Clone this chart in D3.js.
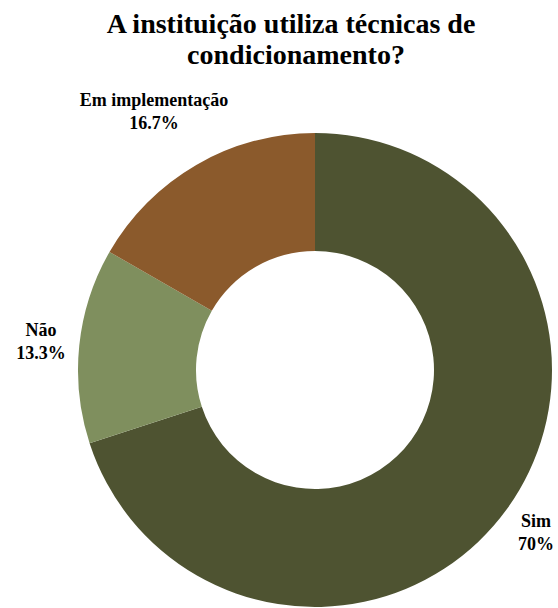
<!DOCTYPE html>
<html><head><meta charset="utf-8">
<script src="https://cdn.jsdelivr.net/npm/d3@7"></script>
</head><body>
<script>
const categories = ["Sim", "Não", "Em implementação"];
const values = [70, 13.3, 16.7];
const labels = ["70%", "13.3%", "16.7%"];
const colors = ["#4e5331", "#7f8f5e", "#8b5a2c"];
const titleLines = ["A instituição utiliza técnicas de", "condicionamento?"];

const W = 558, H = 608;
const FONT = '"Liberation Serif", "Times New Roman", serif';
d3.select("body").style("margin", "0px");
const svg = d3.select("body").append("svg").attr("width", W).attr("height", H)
  .style("display", "block");

svg.selectAll("text.title").data(titleLines).join("text")
  .attr("class", "title")
  .attr("x", (d, i) => i === 0 ? 291 : 296).attr("y", (d, i) => 33 + i * 31)
  .attr("text-anchor", "middle")
  .style("font-family", FONT).style("font-weight", "bold")
  .style("font-size", "28px").attr("fill", "#000")
  .text(d => d);

const cx = 315, cy = 370, R = 237, r = 119;
const pie = d3.pie().sort(null).value(d => d);
const arc = d3.arc().innerRadius(r).outerRadius(R);
const g = svg.append("g").attr("transform", `translate(${cx},${cy})`);
const arcs = pie(values);
g.selectAll("path").data(arcs).join("path")
  .attr("d", arc).attr("fill", (d, i) => colors[i]);

const labelPos = [[536, 527], [41, 336], [154, 106]];
const lg = svg.append("g");
arcs.forEach((a, i) => {
  const t = lg.append("text").attr("text-anchor", "middle")
    .style("font-family", FONT).style("font-weight", "bold")
    .style("font-size", "18px").attr("fill", "#000");
  t.append("tspan").attr("x", labelPos[i][0]).attr("y", labelPos[i][1]).text(categories[i]);
  t.append("tspan").attr("x", labelPos[i][0]).attr("y", labelPos[i][1] + 23).text(labels[i]);
});
</script>
</body></html>
